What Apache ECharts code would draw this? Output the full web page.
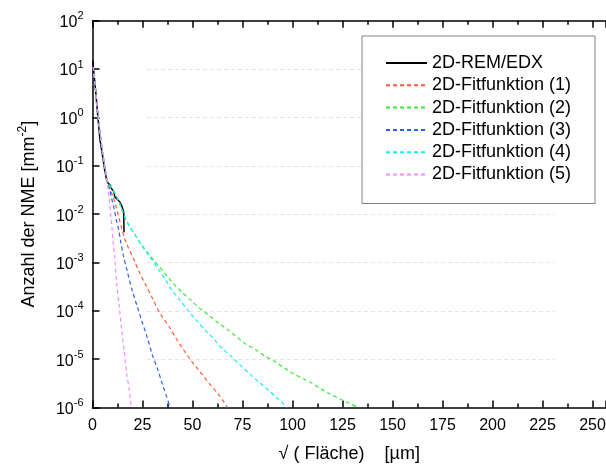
<!DOCTYPE html>
<html><head><meta charset="utf-8">
<script src="https://cdn.jsdelivr.net/npm/echarts@6/dist/echarts.min.js"></script>
<style>html,body{margin:0;padding:0;background:#fff}#c{width:606px;height:464px}</style>
</head><body><div id="c"></div>
<script>
// ---- data ----
const seriesNames = ['2D-REM/EDX','2D-Fitfunktion (1)','2D-Fitfunktion (2)','2D-Fitfunktion (3)','2D-Fitfunktion (4)','2D-Fitfunktion (5)'];
const xTickLabels = ['0','25','50','75','100','125','150','175','200','225','250'];

const remX = [0.3, 0.5, 1.5, 2.4, 3.75, 5.4, 6.1, 7.1, 7.75, 8.75, 9.4, 10.4, 10.75, 11.1, 12.5, 13.6, 14.6, 15.25, 15.6, 15.75];
const remY = [15, 10, 3.8, 1.4, 0.34, 0.13, 0.082, 0.05, 0.044, 0.04, 0.034, 0.031, 0.029, 0.023, 0.02, 0.018, 0.015, 0.014, 0.011, 0.0042];

const fit1X = [0.4, 1.5, 2.5, 3.5, 4.5, 5.5, 6.5, 7.5, 8.6, 10.25, 11.9, 13.1, 14.4, 16.1, 17.75, 20.1, 23.75, 26.25, 30.4, 33.75, 38.75, 41.75, 45.1, 47.9, 51.75, 55.4, 59.1, 62.9, 67.5];
const fit1Y = [11, 3.8, 1.4, 0.6, 0.27, 0.14, 0.075, 0.045, 0.034, 0.023, 0.014, 0.0087, 0.0055, 0.0031, 0.0021, 0.0013, 0.00059, 0.00037, 0.000166, 0.000089, 0.000044, 0.000027, 0.0000166, 0.0000112, 0.0000069, 0.0000045, 0.0000029, 0.0000019, 0.000001];

const fit2X = [0.4, 1.5, 2.5, 3.5, 4.5, 5.5, 6.5, 7.5, 9, 11, 13, 14.5, 16.1, 18, 20, 22.5, 25, 27.5, 30, 35.4, 39.6, 44.6, 49.1, 53.75, 58.4, 62.9, 67.9, 72.4, 76.75, 81.75, 86.25, 91.25, 95.4, 100.4, 105.1, 109.6, 113.75, 118.75, 123.75, 128.75, 132.9];
const fit2Y = [11, 3.8, 1.4, 0.6, 0.27, 0.14, 0.075, 0.045, 0.037, 0.028, 0.019, 0.013, 0.0088, 0.006, 0.0045, 0.0031, 0.0022, 0.0016, 0.0012, 0.00065, 0.0004, 0.000245, 0.000166, 0.000112, 0.0000794, 0.0000562, 0.0000398, 0.0000282, 0.0000204, 0.0000155, 0.0000115, 0.0000089, 0.0000068, 0.000005, 0.000004, 0.0000032, 0.0000025, 0.0000019, 0.0000015, 0.0000012, 0.000001];

const fit3X = [0.4, 1.5, 2.5, 3.5, 4.5, 5.5, 6.5, 7.5, 8.6, 9.75, 10.75, 11.9, 13.1, 14.1, 15.4, 17.4, 20, 22.5, 25, 27.5, 30, 32.5, 35, 37, 38.9];
const fit3Y = [11, 3.8, 1.4, 0.6, 0.27, 0.14, 0.075, 0.045, 0.032, 0.0195, 0.0132, 0.0076, 0.0047, 0.0027, 0.0014, 0.00065, 0.00025, 0.000118, 0.000056, 0.000027, 0.000012, 0.0000063, 0.000003, 0.0000017, 0.000001];

const fit4X = [0.4, 1.5, 2.5, 3.5, 4.5, 5.5, 6.5, 7.5, 9, 11, 13, 14.5, 16.1, 18.6, 21.9, 24.4, 27.4, 33.75, 37.1, 39.6, 43.75, 47.9, 51.75, 56.25, 60.4, 64.6, 69.6, 73.75, 78.75, 83.4, 87.9, 92.1, 97.1];
const fit4Y = [11, 3.8, 1.4, 0.6, 0.27, 0.14, 0.075, 0.045, 0.037, 0.028, 0.019, 0.013, 0.0087, 0.0055, 0.0034, 0.0023, 0.00155, 0.00065, 0.0004, 0.00027, 0.000166, 0.0001, 0.000065, 0.00004, 0.000027, 0.000017, 0.0000112, 0.0000076, 0.0000049, 0.0000033, 0.0000023, 0.0000016, 0.000001];

const fit5X = [0.4, 1.5, 2.5, 3.5, 4.5, 5.5, 6.5, 7.5, 8.0, 8.6, 9.1, 9.75, 10.25, 11.1, 12.1, 13.4, 14.6, 15.75, 17.1, 18.4, 19.3];
const fit5Y = [11, 3.8, 1.4, 0.6, 0.27, 0.14, 0.075, 0.045, 0.027, 0.016, 0.0095, 0.0052, 0.0029, 0.0013, 0.00037, 0.00012, 0.00004, 0.0000155, 0.000005, 0.0000023, 0.000001];

// ---- chart ----
const F = '"Liberation Sans", Arial, sans-serif';
const zip = (xs, ys) => xs.map((x, i) => [x, ys[i]]);
const colors = ['#000000', '#ff5a3c', '#3ae83a', '#2f5fe6', '#11eeee', '#ff88ff'];
const seriesX = [remX, fit1X, fit2X, fit3X, fit4X, fit5X];
const seriesY = [remY, fit1Y, fit2Y, fit3Y, fit4Y, fit5Y];
const X_MAX = 256.75; // axis continues past the right edge of the picture

const axisLineStyle = {color: '#000', width: 1.5};
function xAxisBase(pos) {
  return {
    gridIndex: 0, type: 'value', min: 0, max: X_MAX, interval: 25, position: pos,
    axisLine: {show: true, onZero: false, lineStyle: axisLineStyle},
    axisTick: {show: true, inside: true, length: 7, lineStyle: axisLineStyle},
    minorTick: {show: true, splitNumber: 2, length: 4, lineStyle: axisLineStyle},
    splitLine: {show: false}
  };
}
const xBottom = Object.assign(xAxisBase('bottom'), {
  axisLabel: {show: true, color: '#000', fontSize: 16, fontFamily: F, margin: 10, showMaxLabel: false,
    formatter: v => { const i = Math.round(v / 25); return (Math.abs(v - i * 25) < 1e-6 && i < xTickLabels.length) ? xTickLabels[i] : ''; }},
  name: '√ ( Fläche)    [µm]', nameLocation: 'middle', nameGap: 38,
  nameTextStyle: {color: '#000', fontSize: 18, fontFamily: F}
});
const xTop = Object.assign(xAxisBase('top'), {axisLabel: {show: false}});

const series = seriesNames.map((n, i) => ({
  name: n, type: 'line', xAxisIndex: 0, yAxisIndex: 0,
  data: zip(seriesX[i], seriesY[i]),
  symbol: 'none', showSymbol: false, smooth: i === 0 ? false : 0.3,
  lineStyle: {color: colors[i], width: i === 0 ? 1.5 : 1.2, type: i === 0 ? 'solid' : [4, 3]},
  itemStyle: {color: colors[i]},
  z: i === 0 ? 2 : 3
}));

const chart = echarts.init(document.getElementById('c'), null, {renderer: 'canvas'});
chart.setOption({
  animation: false,
  backgroundColor: '#fff',
  grid: [
    {left: 92.5, right: 0, top: 20.7, bottom: 56.5, containLabel: false, outerBoundsMode: 'none'},
    {left: 147, right: 51, top: 20.7, bottom: 56.5, containLabel: false, outerBoundsMode: 'none'}
  ],
  xAxis: [xBottom, xTop, {gridIndex: 1, type: 'value', min: 0, max: 1, show: false}],
  yAxis: [
    {gridIndex: 0, type: 'log', logBase: 10, min: 1e-6, max: 100, splitNumber: 8,
      axisLine: {show: true, lineStyle: axisLineStyle},
      axisTick: {show: true, inside: true, length: 7, lineStyle: axisLineStyle},
      splitLine: {show: false},
      axisLabel: {show: true, margin: 9,
        formatter: v => '{b|10}{s|' + Math.round(Math.log10(v)) + '}',
        rich: {
          b: {color: '#000', fontSize: 16, fontFamily: F, lineHeight: 20, verticalAlign: 'bottom'},
          s: {color: '#000', fontSize: 11, fontFamily: F, lineHeight: 11, verticalAlign: 'top'}
        }},
      name: '{b|Anzahl der NME [mm}{s|-2}{b|]}', nameLocation: 'middle', nameGap: 54, nameRotate: 90,
      nameTextStyle: {rich: {
        b: {color: '#000', fontSize: 18, fontFamily: F, lineHeight: 22, verticalAlign: 'bottom'},
        s: {color: '#000', fontSize: 12, fontFamily: F, lineHeight: 12, verticalAlign: 'top'}
      }}
    },
    {gridIndex: 1, type: 'log', logBase: 10, min: 1e-6, max: 100, splitNumber: 8,
      axisLine: {show: false}, axisTick: {show: false}, axisLabel: {show: false},
      splitLine: {show: true, showMinLine: false, showMaxLine: false, lineStyle: {color: '#e4e4e4', width: 1, type: [4, 3]}}
    }
  ],
  legend: {
    orient: 'vertical', left: 362, top: 36, padding: [18, 24, 20, 23], itemGap: 4.3,
    itemWidth: 41, itemHeight: 14, backgroundColor: '#fff', borderColor: '#808080', borderWidth: 1, borderRadius: 0,
    itemStyle: {opacity: 0},
    textStyle: {color: '#000', fontSize: 18, fontFamily: F},
    data: seriesNames
  },
  series: series
});
</script></body></html>
